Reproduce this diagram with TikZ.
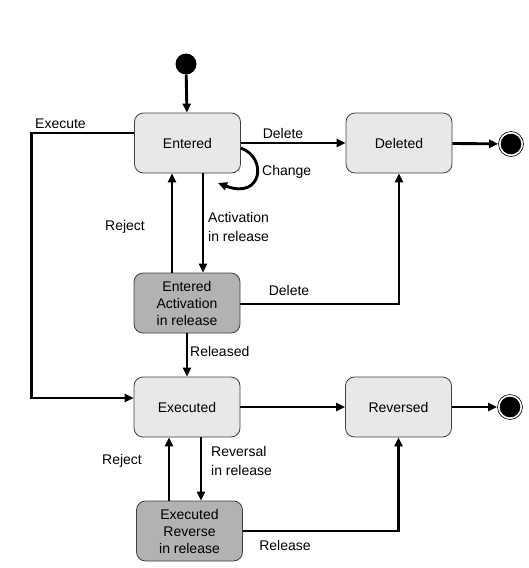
\documentclass[tikz,border=0pt]{standalone}
\usepackage{fontspec}
\setmainfont{Liberation Sans}
\usetikzlibrary{arrows.meta,calc}
\begin{document}
\begin{tikzpicture}[x=1pt,y=-1pt,
  state/.style={draw=black!75,line width=0.8pt,rounded corners=9pt,minimum width=106pt,minimum height=60pt,align=center,font=\fontsize{14}{17}\selectfont,inner sep=0pt},
  light/.style={state,fill=black!9},
  dark/.style={state,fill=black!30},
  arr/.style={line width=2.9pt,-{Triangle[length=9pt,width=8pt]}},
  lbl/.style={font=\fontsize{14}{18.5}\selectfont,inner sep=0pt,align=left},
  initial/.style={circle,fill=black,minimum size=21pt,inner sep=0pt},
  final/.style={circle,draw=black,line width=0.6pt,fill=white,minimum size=25pt,inner sep=0pt,
     path picture={\fill[black] (path picture bounding box.center) circle (10.3pt);}}]
\useasboundingbox (0,0) rectangle (529,568);
\node[initial] (init) at (186,64) {};
\node[light] (entered) at (187.5,143) {Entered};
\node[light] (deleted) at (399,143) {Deleted};
\node[final] (fin1) at (511,144) {};
\node[dark] (ea) at (187,303) {Entered\\Activation\\in release};
\node[light] (executed) at (187,407) {Executed};
\node[light] (reversed) at (398.5,407) {Reversed};
\node[final] (fin2) at (510,407) {};
\node[dark] (er) at (189.5,531) {Executed\\Reverse\\in release};

\draw[arr] (init) -- (entered);
\draw[arr] (entered) -- (deleted);
\node[lbl] (del1) at (283,133) {Delete};
\draw[arr] (deleted) -- (fin1);
\draw[arr] ([yshift=10pt]entered.west) -- ++(-103,0) |- ([yshift=9pt]executed.west);
\node[lbl,anchor=west] (exe) at (35,124) {Execute};
\coordinate (chEnd) at (218,183);
\draw[arr] ([yshift=-5pt]entered.east) .. controls (268,158) and (262,200) .. (chEnd);
\node[lbl,anchor=west] (chg) at (262,172) {Change};
\draw[arr] ([xshift=15.5pt]entered.south) -- ([xshift=16pt]ea.north);
\node[lbl,anchor=west] (act) at (208,227) {Activation\\in release};
\draw[arr] ([xshift=-15pt]ea.north) -- ([xshift=-15.5pt]entered.south);
\node[lbl] (rej1) at (125,227) {Reject};
\draw[arr] ([yshift=-1pt]ea.east) -| (deleted.south);
\node[lbl] (del2) at (289,290) {Delete};
\draw[arr] (ea.south) -- (executed.north);
\node[lbl,anchor=west] (rel) at (190,351) {Released};
\draw[arr] (executed) -- (reversed);
\draw[arr] (reversed) -- (fin2);
\draw[arr] ([xshift=14pt]executed.south) -- ([xshift=11.5pt]er.north);
\node[lbl,anchor=west] (rev) at (211,461) {Reversal\\in release};
\draw[arr] ([xshift=-20.5pt]er.north) -- ([xshift=-18pt]executed.south);
\node[lbl] (rej2) at (122,461) {Reject};
\draw[arr] (er.east) -| (reversed.south);
\node[lbl] (rls) at (285,545) {Release};
\end{tikzpicture}
\end{document}
